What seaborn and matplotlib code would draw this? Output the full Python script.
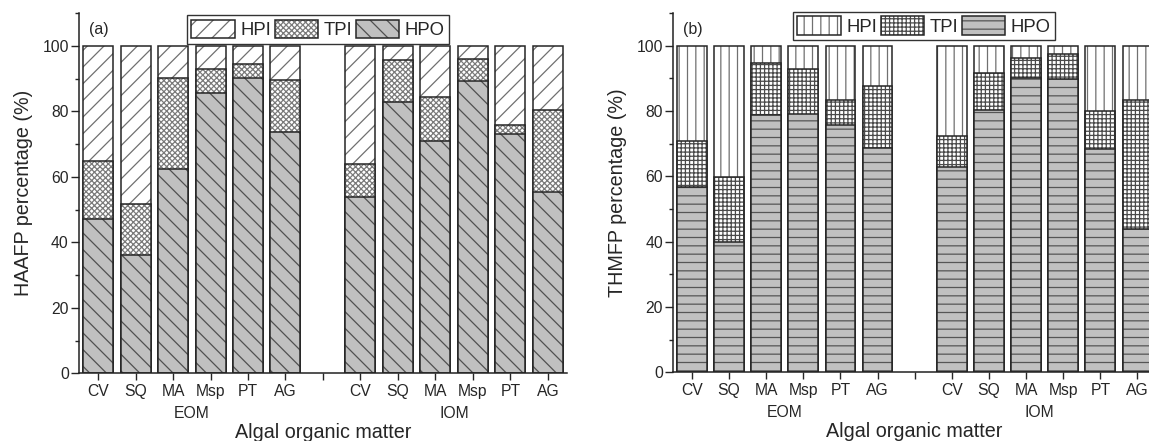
import numpy as np
import pandas as pd
import matplotlib
matplotlib.use("Agg")
import matplotlib.pyplot as plt
from matplotlib.patches import Patch
from matplotlib.legend_handler import HandlerTuple
from matplotlib.ticker import MultipleLocator
import seaborn as sns

# ---- data -------------------------------------------------------------
species = ["CV", "SQ", "MA", "Msp", "PT", "AG"]
groups = ["EOM", "IOM"]
fractions = ["HPI", "TPI", "HPO"]

# HAAFP fractions (%), EOM then IOM
haafp_hpo = [47.1, 36.0, 62.4, 85.7, 90.1, 73.8, 53.8, 83.0, 71.0, 89.4, 73.0, 55.5]
haafp_tpi = [17.7, 15.8, 27.9, 7.3, 4.4, 15.8, 10.2, 12.7, 13.5, 6.7, 2.9, 24.9]
haafp_hpi = [35.2, 48.2, 9.7, 7.0, 5.5, 10.4, 36.0, 4.3, 15.5, 3.9, 24.1, 19.6]

# THMFP fractions (%), EOM then IOM
thmfp_hpo = [56.6, 39.8, 78.8, 79.2, 75.8, 68.6, 62.8, 80.4, 90.3, 89.9, 68.3, 44.0]
thmfp_tpi = [14.2, 19.9, 15.8, 13.6, 7.6, 19.0, 9.6, 11.4, 6.1, 7.7, 11.6, 39.3]
thmfp_hpi = [29.2, 40.3, 5.4, 7.2, 16.6, 12.4, 27.6, 8.2, 3.6, 2.4, 20.1, 16.7]


def build_frame(hpo, tpi, hpi):
    n = len(species)
    rows = []
    for gi, g in enumerate(groups):
        for si, s in enumerate(species):
            k = gi * n + si
            rows.append(dict(group=g, species=s,
                             pos=gi * (n + 1) + si + 1,
                             HPO=hpo[k], TPI=tpi[k], HPI=hpi[k]))
    df = pd.DataFrame(rows)
    # cumulative heights for the stacked layers
    df["top_HPO"] = df["HPO"]
    df["top_TPI"] = df["HPO"] + df["TPI"]
    df["top_HPI"] = df["HPO"] + df["TPI"] + df["HPI"]
    return df


# ---- style ------------------------------------------------------------
sns.set_style("ticks")
plt.rcParams["font.family"] = ["Liberation Sans", "DejaVu Sans"]
plt.rcParams["hatch.linewidth"] = 0.9
plt.rcParams["axes.linewidth"] = 1.1
plt.rcParams["axes.edgecolor"] = "#222222"

EDGE = "#262626"
GRAY = "#c0c0c0"

styles = {
    "a": {"HPI": dict(fc="white", hatch="//", hc="#707070"),
          "TPI": dict(fc="white", hatch="xxxxxx", hc="#7a7a7a"),
          "HPO": dict(fc=GRAY, hatch="\\\\", hc="#505050")},
    "b": {"HPI": dict(fc="white", hatch="||", hc="#707070"),
          "TPI": dict(fc="white", hatch="++++", hc="#4a4a4a"),
          "HPO": dict(fc=GRAY, hatch="--", hc="#555555")},
}

fig = plt.figure(figsize=(11.49, 4.41), dpi=100)
ax_a = fig.add_axes([0.069, 0.1535, 0.4242, 0.8165])
ax_b = fig.add_axes([0.586, 0.156, 0.4201, 0.814])


def draw_panel(ax, df, sty, ylabel, tag, legend_x, legend_y, iom_x):
    # tallest layer first, shorter layers drawn over it
    for frac in fractions:
        st = sty[frac]
        sns.barplot(data=df, x="pos", y=f"top_{frac}", native_scale=True,
                    width=0.8, errorbar=None, color=st["fc"],
                    edgecolor=st["hc"], hatch=st["hatch"], linewidth=0,
                    ax=ax)
        sns.barplot(data=df, x="pos", y=f"top_{frac}", native_scale=True,
                    width=0.8, errorbar=None, fill=False, color=EDGE,
                    linewidth=1.1, ax=ax)

    ticks = list(range(1, 2 * len(species) + 2))
    labels = species + [""] + species
    ax.set_xticks(ticks)
    ax.set_xticklabels(labels, fontsize=11.3)
    ax.set_xlim(0.5, 13.5)
    ax.set_ylim(0, 110)
    ax.yaxis.set_major_locator(MultipleLocator(20))
    ax.yaxis.set_minor_locator(MultipleLocator(10))
    ax.tick_params(axis="y", which="major", length=6, width=1, pad=1.5,
                   labelsize=11.3, color=EDGE)
    ax.tick_params(axis="y", which="minor", length=3, width=1, color=EDGE)
    ax.tick_params(axis="x", which="major", length=5, width=1, pad=3,
                   color=EDGE)
    sns.despine(ax=ax)

    ax.set_xlabel("Algal organic matter", fontsize=14.2, labelpad=17)
    ax.set_ylabel(ylabel, fontsize=14.2, labelpad=7)

    # group labels under the species names
    ax.text(3.5, -0.112, "EOM", transform=ax.get_xaxis_transform(),
            ha="center", va="center", fontsize=11.3)
    ax.text(iom_x, -0.112, "IOM", transform=ax.get_xaxis_transform(),
            ha="center", va="center", fontsize=11.3)

    ax.text(0.02, 0.955, tag, transform=ax.transAxes, ha="left",
            va="center", fontsize=11.5)

    handles = []
    for frac in fractions:
        st = sty[frac]
        h1 = Patch(facecolor=st["fc"], edgecolor=st["hc"], hatch=st["hatch"],
                   linewidth=0)
        h2 = Patch(facecolor="none", edgecolor=EDGE, linewidth=1.1)
        handles.append((h1, h2))
    leg = ax.legend(handles, fractions, ncol=3, loc="upper left",
                    bbox_to_anchor=(legend_x, legend_y),
                    handler_map={tuple: HandlerTuple(ndivide=1)},
                    fontsize=13.3, frameon=True, fancybox=False,
                    handlelength=2.35, handleheight=1.15, handletextpad=0.3,
                    columnspacing=0.2, borderpad=0.25, borderaxespad=0)
    leg.get_frame().set_edgecolor("#333333")
    leg.get_frame().set_linewidth(1.0)
    leg.get_frame().set_alpha(None)


draw_panel(ax_a, build_frame(haafp_hpo, haafp_tpi, haafp_hpi), styles["a"],
           "HAAFP percentage (%)", "(a)", 0.22, 0.995, 10.5)
draw_panel(ax_b, build_frame(thmfp_hpo, thmfp_tpi, thmfp_hpi), styles["b"],
           "THMFP percentage (%)", "(b)", 0.247, 1.004, 10.35)

fig.savefig("out.png", dpi=100)
